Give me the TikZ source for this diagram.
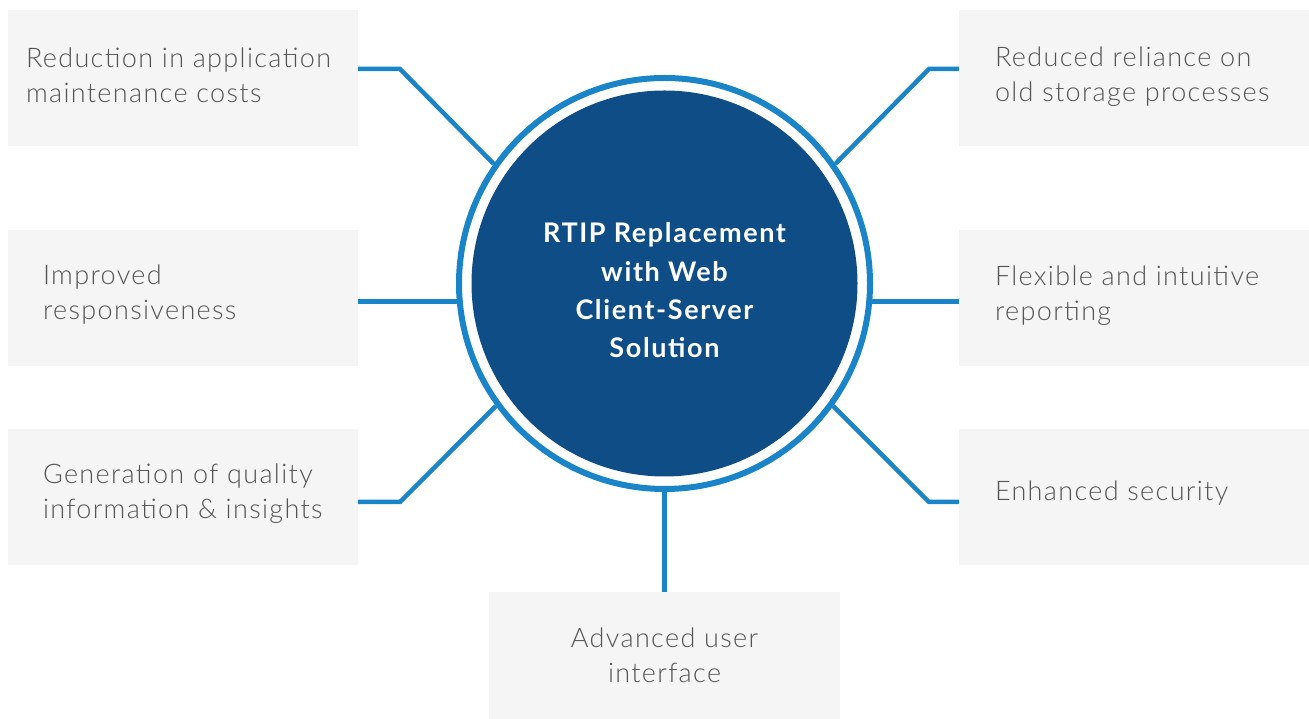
\documentclass[tikz,border=0pt]{standalone}
\usepackage{fontspec}
\setmainfont{Lato}[UprightFont={* Light},BoldFont={* Bold},LetterSpace=5]
\usepackage{tikz}
\usetikzlibrary{backgrounds,calc,positioning}
\definecolor{linkblue}{RGB}{26,132,200}
\definecolor{hubnavy}{RGB}{15,77,135}
\definecolor{boxgray}{RGB}{245,245,245}
\definecolor{textgray}{RGB}{85,85,85}
\tikzset{
  benefit/.style={fill=boxgray, minimum width=350pt, minimum height=136pt, inner sep=0pt},
  benefittext/.style={text=textgray, font=\fontsize{27}{35}\selectfont, align=left, inner sep=0pt, anchor=west},
  link/.style={draw=linkblue, line width=4.5pt},
  hub/.style={circle, fill=white, draw=linkblue, line width=6pt, minimum size=411pt, inner sep=0pt},
  core/.style={circle, fill=hubnavy, minimum size=386pt, inner sep=0pt},
  title/.style={text=white, font=\bfseries\fontsize{27}{38.3}\selectfont\addfontfeatures{LetterSpace=6}, align=center}
}

\begin{document}
\begin{tikzpicture}[x=1pt,y=1pt]
\useasboundingbox (0,0) rectangle (1309,719);

% boxes on the left
\node[benefit] (tl) at (183,641) {};
\node[benefit] (ml) at (183,421) {};
\node[benefit] (bl) at (183,222) {};
\node[benefittext, right=18pt of tl.west, yshift=3pt] (tltext) {Reduction in application\\maintenance costs};
\node[benefittext, right=35pt of ml.west, yshift=3pt] (mltext) {Improved\\responsiveness};
\node[benefittext, right=35pt of bl.west, yshift=3pt] (bltext) {Generation of quality\\information \& insights};

% boxes on the right
\node[benefit] (tr) at (1134,641) {};
\node[benefit] (mr) at (1134,421) {};
\node[benefit] (br) at (1134,222) {};
\node[benefittext, right=36pt of tr.west, yshift=1pt] (trtext) {Reduced reliance on\\old storage processes};
\node[benefittext, right=36pt of mr.west, yshift=2pt] (mrtext) {Flexible and intuitive\\reporting};
\node[benefittext, right=36pt of br.west, yshift=4pt] (brtext) {Enhanced security};

% box at the bottom
\node[benefit, minimum width=351pt, minimum height=127pt, text=textgray,
      font=\fontsize{27}{35}\selectfont, align=center] (ui) at (664.5,63.5) {Advanced user\\interface};

% centre circle
\node[hub] (hub) at (664.5,435.5) {};
\node[core] (core) at (hub.center) {};
\node[title] (title) at ([yshift=-7pt]hub.center) {RTIP Replacement\\with Web\\Client-Server\\Solution};

\coordinate (tlbend) at (400,650);
\coordinate (blbend) at (400,217);
\coordinate (trbend) at (929,650);
\coordinate (brbend) at (929,217);

\begin{scope}[on background layer]
\draw[link] (tl.east |- tlbend) -- (tlbend) -- (hub.145);
\draw[link] (ml.east |- hub.185) -- (hub.185);
\draw[link] (bl.east |- blbend) -- (blbend) -- (hub.216);
\draw[link] (tr.west |- trbend) -- (trbend) -- (hub.35);
\draw[link] (mr.west |- hub.-5) -- (hub.-5);
\draw[link] (br.west |- brbend) -- (brbend) -- (hub.-36);
\draw[link] (hub.south) -- (ui.north);
\end{scope}
\end{tikzpicture}
\end{document}
